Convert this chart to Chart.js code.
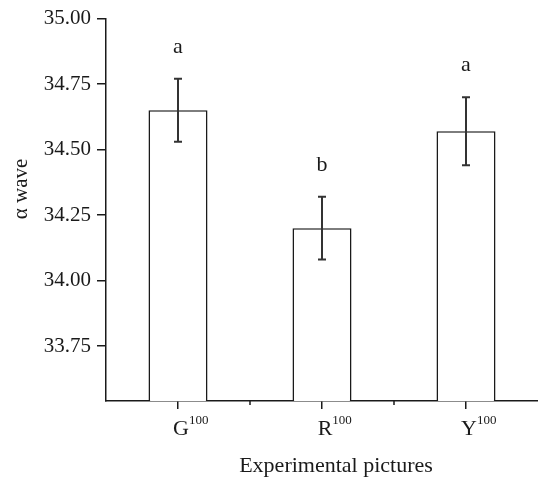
<!DOCTYPE html>
<html>
<head>
<meta charset="utf-8">
<script src="https://cdn.jsdelivr.net/npm/chart.js@4/dist/chart.umd.min.js"></script>
<style>
  html, body { margin: 0; padding: 0; background: #fff; }
  #wrap { width: 538px; height: 480px; }
</style>
</head>
<body>
<div id="wrap"><canvas id="chart"></canvas></div>
<script>
const categories = ['G', 'R', 'Y'];
const catSup     = ['100', '100', '100'];
const means      = [34.65, 34.20, 34.57];
const errors     = [0.12, 0.12, 0.13];
const letters    = ['a', 'b', 'a'];
const yTicks     = [33.75, 34.00, 34.25, 34.50, 34.75, 35.00];
const Y_MIN = 33.54;
const Y_MAX = 35.00;

const INK   = '#1a1a1a';
const SERIF = '"Liberation Serif", "Times New Roman", serif';

// ── error bars, letters, labels ─────────────────────────────
const extras = {
  id: 'extras',
  afterDatasetsDraw(chart) {
    const { ctx, scales: { x, y } } = chart;
    ctx.save();
    ctx.strokeStyle = '#333';
    ctx.lineWidth = 2;
    means.forEach((m, i) => {
      const cx  = x.getPixelForValue(i);
      const top = y.getPixelForValue(m + errors[i]);
      const bot = y.getPixelForValue(m - errors[i]);
      ctx.beginPath();
      ctx.moveTo(cx, top); ctx.lineTo(cx, bot);
      ctx.moveTo(cx - 4, top); ctx.lineTo(cx + 4, top);
      ctx.moveTo(cx - 4, bot); ctx.lineTo(cx + 4, bot);
      ctx.stroke();

      ctx.fillStyle = INK;
      ctx.font = '22px ' + SERIF;
      ctx.textAlign = 'center';
      ctx.textBaseline = 'alphabetic';
      ctx.fillText(letters[i], cx, top - 26);
    });
    ctx.restore();
  },
  afterDraw(chart) {
    const { ctx, scales: { x }, chartArea } = chart;
    ctx.save();
    // short ticks between categories
    ctx.strokeStyle = INK;
    ctx.lineWidth = 1.5;
    for (let i = 0; i < categories.length - 1; i++) {
      const bx = (x.getPixelForValue(i) + x.getPixelForValue(i + 1)) / 2;
      ctx.beginPath();
      ctx.moveTo(bx, chartArea.bottom); ctx.lineTo(bx, chartArea.bottom + 4);
      ctx.stroke();
    }
    // category labels with superscript
    ctx.fillStyle = INK;
    ctx.textBaseline = 'alphabetic';
    ctx.textAlign = 'left';
    categories.forEach((c, i) => {
      const cx = x.getPixelForValue(i);
      ctx.font = '22px ' + SERIF;
      const w = ctx.measureText(c).width;
      const left = cx + 3 - w / 2;
      ctx.fillText(c, left, 435);
      ctx.font = '13px ' + SERIF;
      ctx.fillText(catSup[i], left + w, 424);
    });
    // axis titles
    ctx.textAlign = 'center';
    ctx.textBaseline = 'middle';
    ctx.font = '22px ' + SERIF;
    ctx.fillText('Experimental pictures', 336, 466);
    ctx.font = '21px ' + SERIF;
    ctx.translate(21, 189);
    ctx.rotate(-Math.PI / 2);
    ctx.fillText('\u03b1 wave', 0, 0);
    ctx.restore();
  }
};

new Chart(document.getElementById('chart'), {
  type: 'bar',
  data: {
    labels: categories,
    datasets: [{
      data: means,
      base: Y_MIN,
      backgroundColor: '#ffffff',
      borderColor: INK,
      borderWidth: 1.6,
      categoryPercentage: 1,
      barPercentage: 0.41
    }]
  },
  options: {
    responsive: true, maintainAspectRatio: false, animation: false,
    layout: { padding: { top: 15, right: 0, left: 0, bottom: 0 } },
    plugins: { legend: { display: false }, tooltip: { enabled: false } },
    scales: {
      x: {
        grid: { drawOnChartArea: false, tickLength: 8, color: INK, lineWidth: 1.5, offset: false },
        border: { display: true, color: INK, width: 1.5 },
        ticks: { display: false },
        afterFit: s => { s.height = 79; }
      },
      y: {
        min: Y_MIN, max: Y_MAX,
        afterBuildTicks: s => { s.ticks = yTicks.map(v => ({ value: v })); },
        grid: { drawOnChartArea: false, tickLength: 9, color: INK, lineWidth: 1.5 },
        border: { display: true, color: INK, width: 1.5 },
        ticks: {
          color: INK, padding: 6,
          font: { family: SERIF, size: 21 },
          callback: v => Number(v).toFixed(2)
        },
        afterFit: s => { s.width = 106; }
      }
    }
  },
  plugins: [extras]
});
</script>
</body>
</html>
